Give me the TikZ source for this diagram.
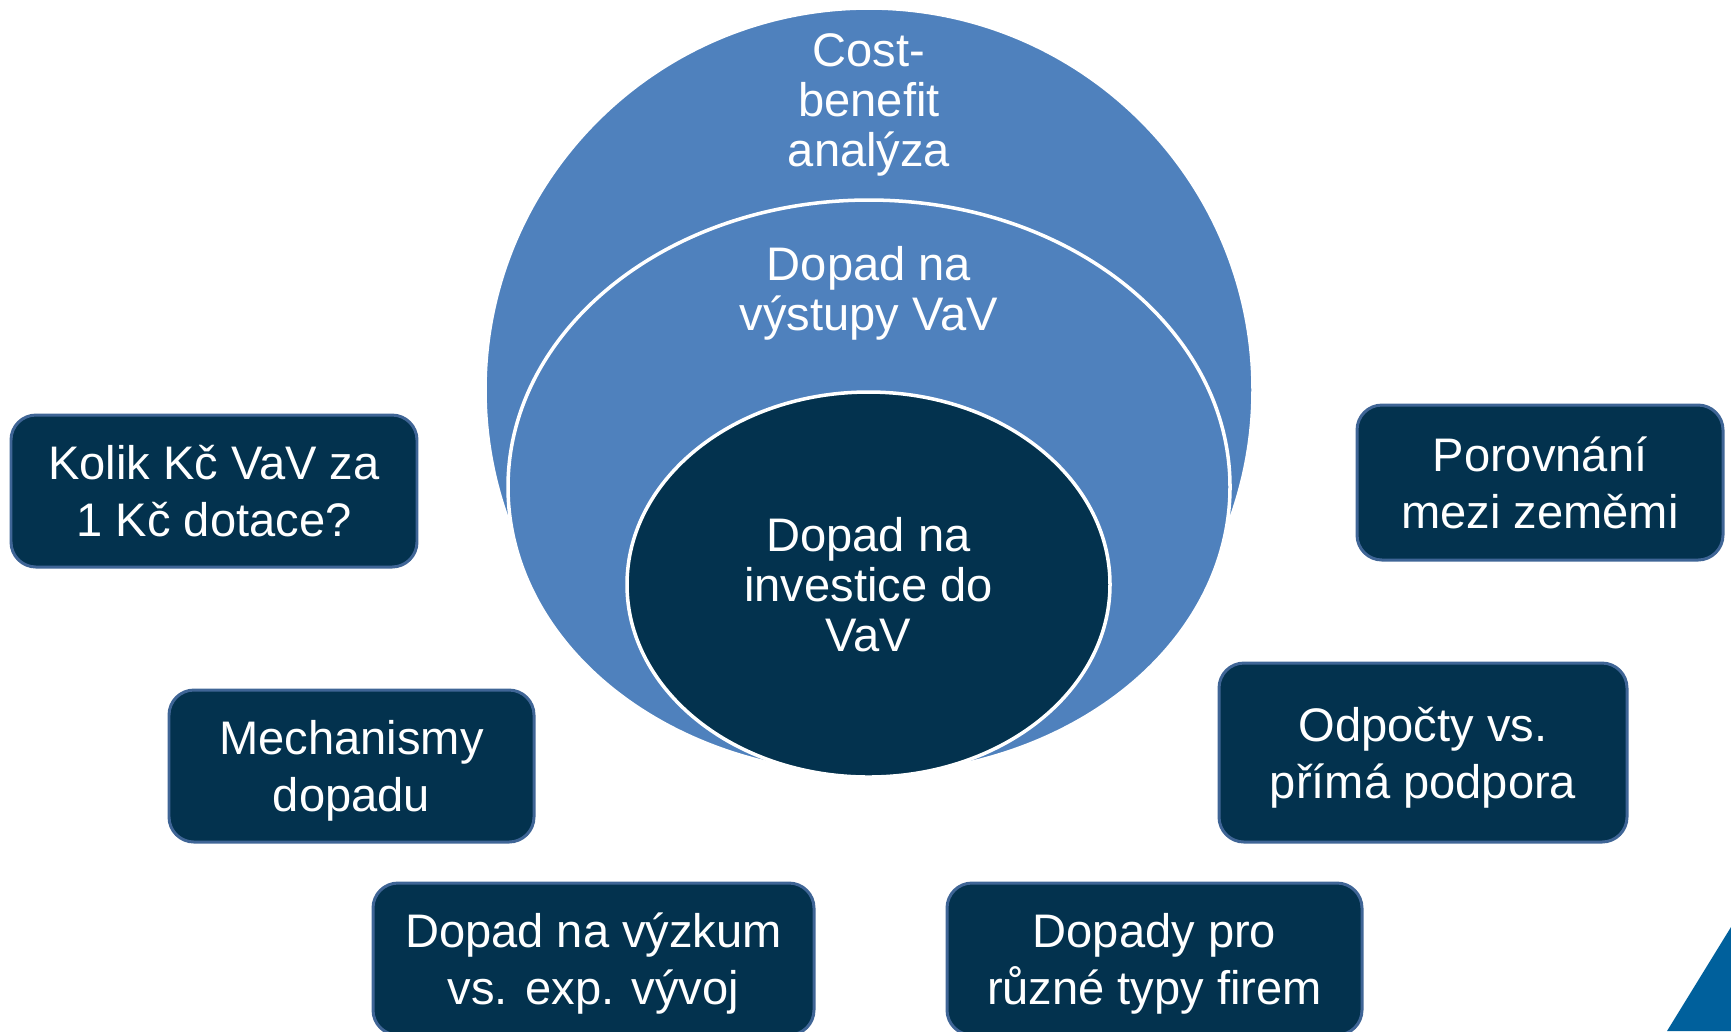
\documentclass[tikz,border=0pt]{standalone}
\usepackage{fontspec}
\setmainfont{Liberation Sans}
\usepackage{tikz}
\usetikzlibrary{shapes.geometric}
\definecolor{ringblue}{HTML}{4F81BD}
\definecolor{navy}{HTML}{03324E}
\definecolor{boxline}{HTML}{3F6596}
\definecolor{cornerblue}{HTML}{00609C}
\tikzset{
ring/.style={ellipse, draw=white, line width=1pt, inner sep=0pt},
ringtext/.style={text=white, align=center, text depth=0pt, font=\fontsize{13.4}{14.2}\selectfont},
topic/.style={rectangle, rounded corners=2.5mm, draw=boxline, line width=0.85pt,
  fill=navy, text=white, align=center, inner sep=0pt, minimum height=15.2mm,
  text depth=0pt, font=\fontsize{13.4}{16.2}\selectfont}
}

\begin{document}
\begin{tikzpicture}[x=0.1mm, y=-0.1mm]
    \path[use as bounding box, clip] (0,0) rectangle (1731,1031);
    \node[ring, fill=ringblue, minimum width=76.8mm, minimum height=76.4mm] (outer) at (869,390) {};
    \node[ring, fill=ringblue, minimum width=72.2mm, minimum height=57.4mm] (middle) at (869,487) {};
    \node[ring, ringtext, fill=navy, minimum width=48.3mm, minimum height=38.5mm] (inner) at (868.5,584.5) {Dopad na\\investice do\\VaV};
    \node[ringtext] (cba) at (869,100) {Cost-\\benefit\\analýza};
    \node[ringtext] (outputs) at (869,288) {Dopad na\\výstupy VaV};

    \node[topic, minimum width=40.6mm] (kolik) at (214,491) {Kolik Kč VaV za\\1 Kč dotace?};
    \node[topic, minimum width=36.5mm] (mech) at (351.5,766) {Mechanismy\\dopadu};
    \node[topic, minimum width=44.1mm] (research) at (593.5,959) {Dopad na výzkum\\vs. exp. vývoj};
    \node[topic, minimum width=41.5mm] (firms) at (1154.5,959) {Dopady pro\\různé typy firem};
    \node[topic, minimum width=40.8mm, minimum height=17.9mm] (deduct) at (1423,752.5) {Odpočty vs.\\přímá podpora};
    \node[topic, minimum width=36.6mm, minimum height=15.5mm] (compare) at (1540,482.5) {Porovnání\\mezi zeměmi};

    \fill[cornerblue] (1667,1031) -- (1731,927) -- (1731,1031) -- cycle;
\end{tikzpicture}
\end{document}
